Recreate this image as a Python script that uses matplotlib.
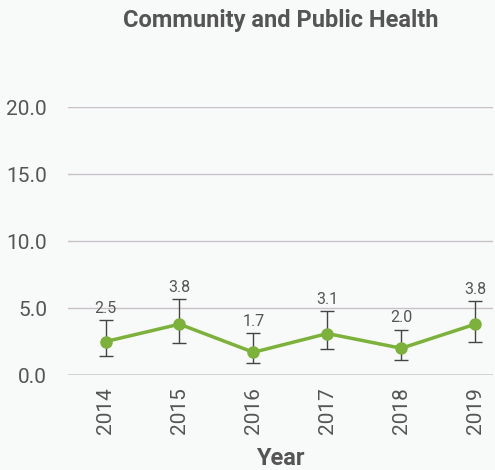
import numpy as np
import matplotlib.pyplot as plt

years = [2014, 2015, 2016, 2017, 2018, 2019]
values = [2.5, 3.8, 1.7, 3.1, 2.0, 3.8]
upper = [4.1, 5.65, 3.15, 4.8, 3.4, 5.55]
lower = [1.4, 2.4, 0.92, 1.95, 1.1, 2.45]
yticks = [0, 5, 10, 15, 20]

bg = "#f8f9f9"
green = "#7cb13a"
txt = "#555555"

plt.rcParams['font.family'] = ['Roboto', 'DejaVu Sans']

fig = plt.figure(figsize=(4.95, 4.7), dpi=100, facecolor=bg)
ax = fig.add_axes([0.137, 0.202, 0.859, 0.570], facecolor=bg)

x = np.array(years)
v = np.array(values)
err = [v - np.array(lower), np.array(upper) - v]
ax.errorbar(x, v, yerr=err, fmt="none", ecolor="#444444", elinewidth=1, capsize=5, capthick=1, zorder=3)
ax.plot(x, v, color=green, lw=2.5, marker="o", ms=8, zorder=4)

for xi, vi, ui in zip(x, values, upper):
    ax.text(xi, ui + 0.3, "%.1f" % vi, ha="center", va="bottom", fontsize=11.5, color=txt)

ax.set_xlim(2013.49, 2019.24)
ax.set_ylim(0, 20)
ax.set_yticks(yticks)
ax.set_yticklabels(["%.1f" % t for t in yticks])
ax.set_xticks(years)
ax.set_xticklabels([str(y) for y in years], rotation=90)
ax.tick_params(length=0, labelsize=15, colors=txt)
ax.tick_params(axis="y", pad=15)
ax.tick_params(axis="x", pad=9)

for t in yticks[1:]:
    ax.axhline(t, color="#c9c1c9", lw=1, zorder=1)
ax.axhline(0, color="#d0d0d0", lw=2, zorder=1)

for s in ax.spines.values():
    s.set_visible(False)

ax.set_xlabel("Year", fontsize=17, fontweight="bold", color=txt, labelpad=9)
fig.text(0.568, 0.957, "Community and Public Health", ha="center", va="center",
         fontsize=17, fontweight="bold", color=txt)

plt.savefig("out.png", dpi=100, facecolor=bg)
